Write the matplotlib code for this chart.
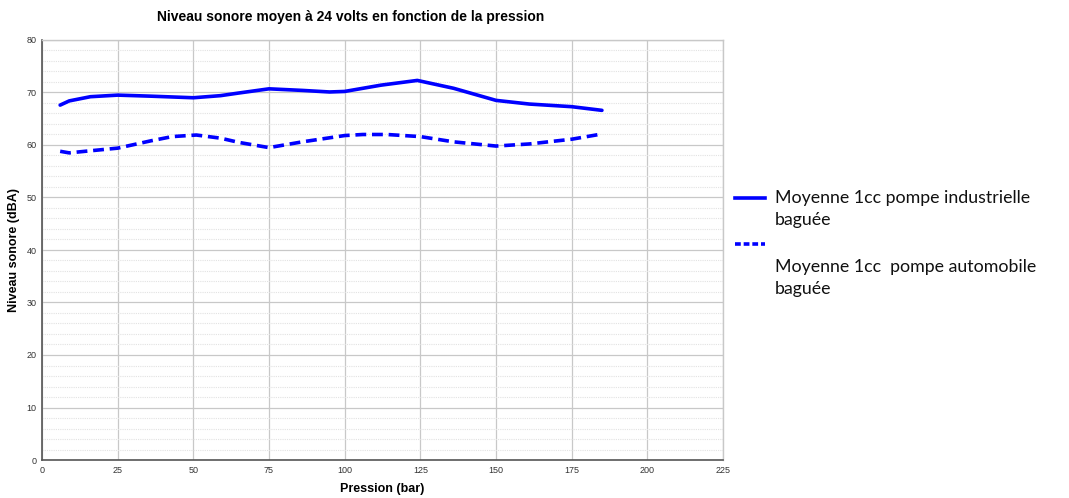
import matplotlib
matplotlib.use('Agg')
import matplotlib.pyplot as plt
from matplotlib.lines import Line2D
from matplotlib.ticker import MultipleLocator

# valeurs
pression_ind = [6, 9, 16, 25, 36, 50, 59, 65, 75, 86, 95, 100, 112, 124, 136, 150, 161, 175, 185]
niveau_ind = [67.6, 68.4, 69.2, 69.5, 69.3, 69.0, 69.4, 69.9, 70.7, 70.4, 70.1, 70.2, 71.4, 72.3, 70.8, 68.5, 67.8, 67.3, 66.6]

pression_auto = [6, 9, 16, 25, 36, 43, 51, 59, 65, 75, 86, 100, 106, 114, 125, 136, 150, 161, 175, 185]
niveau_auto = [58.8, 58.5, 58.9, 59.4, 60.8, 61.6, 61.9, 61.3, 60.5, 59.5, 60.6, 61.8, 62.0, 62.0, 61.6, 60.6, 59.8, 60.2, 61.1, 62.1]

label_ind = 'Moyenne 1cc pompe industrielle\nbaguée'
label_auto = 'Moyenne 1cc  pompe automobile\nbaguée'

plt.rcParams['font.family'] = ['Liberation Sans', 'DejaVu Sans']

fig = plt.figure(figsize=(10.69, 4.98), dpi=100)
ax = fig.add_axes([42/1069, 38/498, 681/1069, 420/498])

ax.plot(pression_ind, niveau_ind, color='#0000ff', lw=2.6, solid_capstyle='round', solid_joinstyle='round')
ax.plot(pression_auto, niveau_auto, color='#0000ff', lw=2.6, dashes=(3, 1.6))

ax.set_xlim(0, 225)
ax.set_ylim(0, 80)
ax.xaxis.set_major_locator(MultipleLocator(25))
ax.yaxis.set_major_locator(MultipleLocator(10))
ax.yaxis.set_minor_locator(MultipleLocator(2))
ax.grid(which='major', color='#c8c8c8', lw=0.9)
ax.grid(which='minor', axis='y', color='#e2e2e2', lw=0.8, ls=(0, (1, 1)))
ax.set_axisbelow(True)
ax.tick_params(which='both', length=0, labelsize=6.5, labelcolor='#333333', pad=4)

for s in ['left', 'bottom']:
    ax.spines[s].set_color('#555555')
    ax.spines[s].set_linewidth(1.2)
for s in ['top', 'right']:
    ax.spines[s].set_color('#c8c8c8')
    ax.spines[s].set_linewidth(1.0)

ax.set_xlabel('Pression (bar)', fontsize=9, fontweight='bold', labelpad=6)
ax.set_ylabel('Niveau sonore (dBA)', fontsize=9, fontweight='bold')
ax.yaxis.set_label_coords(-22/681, 0.5)
fig.text(351/1069, 1 - 17/498, 'Niveau sonore moyen à 24 volts en fonction de la pression',
         ha='center', va='center', fontsize=10, fontweight='bold')

# légende à droite
fig.add_artist(Line2D([735/1069, 765/1069], [1 - 198/498, 1 - 198/498], color='#0000ff', lw=2.6))
fig.add_artist(Line2D([735/1069, 765/1069], [1 - 244/498, 1 - 244/498], color='#0000ff', lw=2.6, dashes=(1.6, 0.8)))
fig.text(775/1069, 1 - 209/498, label_ind, ha='left', va='center', fontsize=12.8,
         family=['Lato', 'DejaVu Sans'], linespacing=1.45, color='#111111')
fig.text(775/1069, 1 - 278/498, label_auto, ha='left', va='center', fontsize=12.8,
         family=['Lato', 'DejaVu Sans'], linespacing=1.45, color='#111111')

fig.savefig('out.png', dpi=100)
